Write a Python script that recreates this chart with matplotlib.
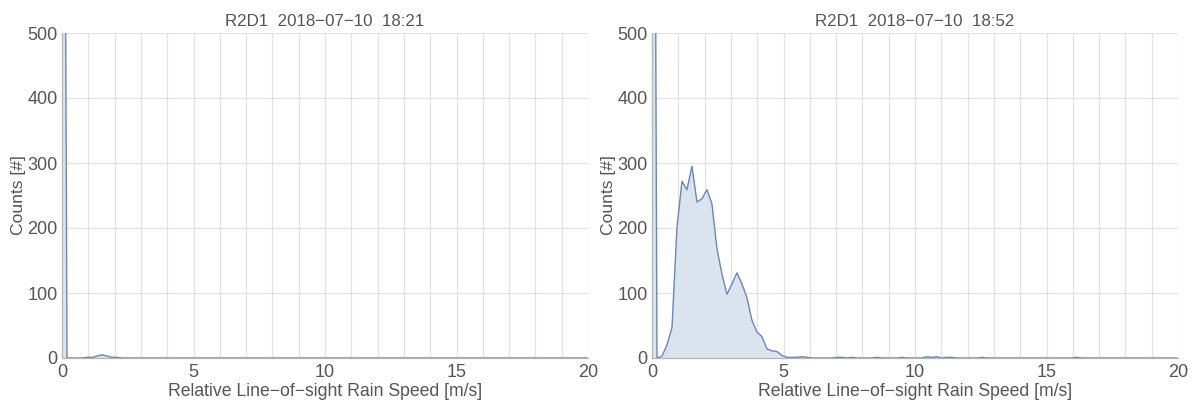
import numpy as np
import matplotlib
matplotlib.use("Agg")
import matplotlib.pyplot as plt

plt.rcParams['font.family'] = ['Liberation Sans', 'DejaVu Sans']

bin_width = 0.19
titles = ["R2D1  2018\u221207\u221210  18:21", "R2D1  2018\u221207\u221210  18:52"]

counts_1821 = [
    2000, 0, 0, 0, 0, 1, 1, 3, 5, 3, 1, 1, 0, 0, 0, 0, 0, 0, 0, 0,
    0, 0, 0, 0, 0, 0, 0, 0, 0, 0, 0, 0, 0, 0, 0, 0, 0, 0, 0, 0,
    0, 0, 0, 0, 0, 0, 0, 0, 0, 0, 0, 0, 0, 0, 0, 0, 0, 0, 0, 0,
    0, 0, 0, 0, 0, 0, 0, 0, 0, 0, 0, 0, 0, 0, 0, 0, 0, 0, 0, 0,
    0, 0, 0, 0, 0, 0, 0, 0, 0, 0, 0, 0, 0, 0, 0, 0, 0, 0, 0, 0,
    0, 0, 0, 0, 0, 0,
]

counts_1852 = [
    2000, 0, 3, 20, 47, 201, 272, 259, 295, 240, 245, 259, 237, 168, 129, 98, 114, 131, 114, 93,
    58, 40, 33, 14, 11, 10, 4, 1, 1, 1, 2, 1, 0, 0, 0, 0, 0, 1, 1, 0,
    1, 0, 0, 0, 0, 1, 0, 0, 0, 0, 1, 0, 0, 0, 0, 2, 1, 2, 0, 1,
    1, 0, 0, 0, 0, 0, 1, 0, 0, 0, 0, 0, 0, 0, 0, 0, 0, 0, 0, 0,
    0, 0, 0, 0, 0, 1, 0, 0, 0, 0, 0, 0, 0, 0, 0, 0, 0, 0, 0, 0,
    0, 0, 0, 0, 0, 0,
]

series = [counts_1821, counts_1852]

line_color = "#6d86b2"
fill_color = "#dbe3ef"
grid_color = "#e2e2e2"
text_color = "#555555"

fig = plt.figure(figsize=(11.92, 4.01), dpi=100)
axes_rects = [
    [62 / 1192, 1 - 358 / 401, 526 / 1192, 325 / 401],
    [652 / 1192, 1 - 358 / 401, 526 / 1192, 325 / 401],
]

for rect, title, counts in zip(axes_rects, titles, series):
    ax = fig.add_axes(rect)
    y = np.array(counts, dtype=float)
    x = np.arange(len(y)) * bin_width
    ax.fill_between(x, 0, y, color=fill_color, lw=0, zorder=2)
    ax.plot(x, y, color=line_color, lw=1.0, zorder=3)
    ax.set_xlim(0, 20)
    ax.set_ylim(0, 500)
    ax.set_xticks([0, 5, 10, 15, 20])
    ax.set_xticks(np.arange(0, 21, 1), minor=True)
    ax.set_yticks([0, 100, 200, 300, 400, 500])
    ax.grid(True, which="both", axis="x", color=grid_color, lw=0.9, zorder=0)
    ax.grid(True, which="major", axis="y", color=grid_color, lw=0.9, zorder=0)
    ax.set_axisbelow(True)
    for side in ["top", "right"]:
        ax.spines[side].set_visible(False)
    for side in ["left", "bottom"]:
        ax.spines[side].set_color("#b5b5b5")
        ax.spines[side].set_linewidth(0.9)
    ax.tick_params(axis="both", which="both", length=0, labelsize=13, colors=text_color)
    ax.tick_params(axis="x", pad=4)
    ax.tick_params(axis="y", pad=3)
    ax.set_title(title, fontsize=12.2, color=text_color, pad=5)
    ax.set_xlabel("Relative Line\u2212of\u2212sight Rain Speed [m/s]", fontsize=12.7,
                  color=text_color, labelpad=2)
    ax.set_ylabel("Counts [#]", fontsize=12.6, color=text_color, labelpad=1)

fig.savefig("out.png", dpi=100)
